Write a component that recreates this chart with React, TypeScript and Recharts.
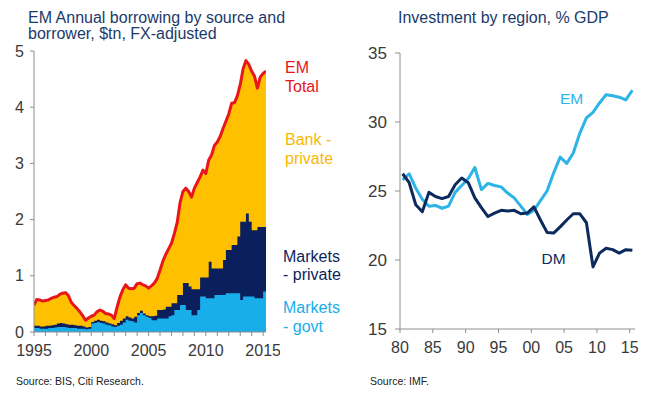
import React from 'react';
import { ComposedChart, LineChart, Area, Line, XAxis, YAxis } from 'recharts';

const FONT = '"Liberation Sans", Arial, Helvetica, sans-serif';

// ---------- Left chart: EM annual borrowing ($tn), quarterly ----------
const quarters: number[] = Array.from({ length: 82 }, (_, i) => 1995 + i / 4);

const emTotal = [
  0.48, 0.58, 0.57, 0.55, 0.56, 0.57, 0.60, 0.62, 0.63, 0.67, 0.69, 0.70,
  0.65, 0.53, 0.47, 0.42, 0.36, 0.29, 0.21, 0.25, 0.28, 0.30, 0.36, 0.39,
  0.37, 0.33, 0.32, 0.30, 0.24, 0.44, 0.62, 0.75, 0.84, 0.78, 0.77, 0.78,
  0.86, 0.87, 0.84, 0.82, 0.78, 0.82, 0.87, 0.95, 1.10, 1.26, 1.38, 1.48,
  1.58, 1.75, 1.95, 2.30, 2.50, 2.56, 2.50, 2.40, 2.56, 2.66, 2.76, 2.88,
  2.82, 3.06, 3.15, 3.32, 3.38, 3.48, 3.62, 3.75, 3.88, 4.07, 4.08, 4.20,
  4.40, 4.68, 4.83, 4.76, 4.64, 4.55, 4.34, 4.54, 4.60, 4.64,
];

const marketsGovt = [
  0.07, 0.07, 0.06, 0.06, 0.06, 0.07, 0.07, 0.08, 0.09, 0.09, 0.09, 0.08,
  0.07, 0.07, 0.07, 0.06, 0.06, 0.06, 0.05, 0.06, 0.15, 0.16, 0.18, 0.16,
  0.15, 0.13, 0.12, 0.10, 0.09, 0.11, 0.13, 0.17, 0.22, 0.20, 0.19, 0.17,
  0.30, 0.34, 0.30, 0.27, 0.25, 0.21, 0.21, 0.24, 0.24, 0.24, 0.24, 0.28,
  0.30, 0.39, 0.39, 0.48, 0.48, 0.39, 0.39, 0.30, 0.30, 0.39, 0.63, 0.63,
  0.60, 0.60, 0.60, 0.66, 0.66, 0.66, 0.66, 0.69, 0.69, 0.69, 0.69, 0.69,
  0.57, 0.63, 0.63, 0.63, 0.63, 0.60, 0.60, 0.60, 0.72, 0.72,
];

const marketsPrivate = [
  0.04, 0.04, 0.04, 0.04, 0.05, 0.04, 0.05, 0.05, 0.06, 0.07, 0.06, 0.06,
  0.06, 0.06, 0.05, 0.05, 0.05, 0.04, 0.03, 0.03, 0.03, 0.04, 0.04, 0.04,
  0.04, 0.04, 0.03, 0.04, 0.03, 0.05, 0.07, 0.07, 0.06, 0.06, 0.05, 0.10,
  0.04, 0.04, 0.03, 0.03, 0.03, 0.07, 0.08, 0.15, 0.15, 0.16, 0.21, 0.17,
  0.21, 0.12, 0.27, 0.18, 0.39, 0.48, 0.42, 0.46, 0.46, 0.37, 0.34, 0.34,
  0.37, 0.65, 0.53, 0.47, 0.47, 0.47, 0.62, 0.77, 0.77, 0.86, 0.86, 1.01,
  1.39, 1.33, 1.48, 1.33, 1.18, 1.21, 1.27, 1.27, 1.15, 1.15,
];

const leftYearTicks = [
  1995, 1996, 1997, 1998, 1999, 2000, 2001, 2002, 2003, 2004, 2005,
  2006, 2007, 2008, 2009, 2010, 2011, 2012, 2013, 2014, 2015,
];
const leftValueTicks = [0, 1, 2, 3, 4, 5];

// ---------- Right chart: Investment by region, % GDP ----------
const investYears = [
  1980, 1981, 1982, 1983, 1984, 1985, 1986, 1987, 1988, 1989,
  1990, 1991, 1992, 1993, 1994, 1995, 1996, 1997, 1998, 1999,
  2000, 2001, 2002, 2003, 2004, 2005, 2006, 2007, 2008, 2009,
  2010, 2011, 2012, 2013, 2014, 2015,
];
const emInvest = [
  25.8, 26.25, 25.2, 24.4, 23.9, 23.95, 23.75, 23.9, 24.9, 25.4,
  25.9, 26.7, 25.1, 25.55, 25.4, 25.3, 24.85, 24.5, 23.9, 23.3,
  23.6, 24.3, 25.0, 26.3, 27.46, 27.0, 27.75, 29.2, 30.3, 30.7,
  31.38, 31.98, 31.9, 31.8, 31.6, 32.3,
];
const dmInvest = [
  26.25, 25.6, 24.0, 23.5, 24.9, 24.6, 24.45, 24.6, 25.45, 25.94,
  25.6, 24.5, 23.8, 23.15, 23.4, 23.6, 23.55, 23.6, 23.35, 23.4,
  23.85, 22.9, 22.0, 21.95, 22.4, 22.9, 23.35, 23.35, 22.7, 19.5,
  20.5, 20.85, 20.75, 20.5, 20.75, 20.7,
];
const rightYearTicks = [1980, 1985, 1990, 1995, 2000, 2005, 2010, 2015];
const rightValueTicks = [15, 20, 25, 30, 35];

// tables built from the arrays
const leftData = quarters.map((t, i) => ({
  t,
  total: emTotal[i],
  marketsTop: +(marketsGovt[i] + marketsPrivate[i]).toFixed(3),
  govt: marketsGovt[i],
}));
const rightData = investYears.map((y, i) => ({
  t: y + 0.4, // annual value plotted mid-year
  em: emInvest[i],
  dm: dmInvest[i],
}));

const C = {
  title: '#1B3A6B',
  red: '#E8151B',
  gold: '#FFC000',
  goldText: '#F7B900',
  navy: '#0B1F5C',
  govt: '#17AEEA',
  emLine: '#2BB4E5',
  dmLine: '#0D2A5E',
  axis: '#8E8E8E',
  tick: '#3A3A3A',
};

export default function App() {
  return (
    <div style={{ position: 'absolute', left: 0, top: 0, width: 655, height: 395, background: '#fff', fontFamily: FONT }}>
      <div style={{ position: 'absolute', left: 0, top: 0 }}>
        <ComposedChart width={280} height={370} data={leftData} margin={{ top: 51, right: 14, bottom: 8, left: 0 }}>
          <XAxis
            type="number"
            dataKey="t"
            domain={[1995, 2015.25]}
            ticks={leftYearTicks}
            interval={0}
            allowDataOverflow
            tickFormatter={(v: number) => (v % 5 === 0 ? String(v) : '')}
            tickSize={4}
            tickMargin={9}
            height={30}
            stroke={C.axis}
            tick={{ fill: C.tick, fontSize: 16, fontFamily: FONT }}
          />
          <YAxis
            type="number"
            domain={[0, 5]}
            ticks={leftValueTicks}
            interval={0}
            width={34}
            tickSize={4}
            tickMargin={6}
            stroke={C.axis}
            tick={{ fill: C.tick, fontSize: 16, fontFamily: FONT }}
          />
          <Area type="linear" dataKey="total" fill={C.gold} fillOpacity={1} stroke="none" isAnimationActive={false} />
          <Area type="stepAfter" dataKey="marketsTop" fill={C.navy} fillOpacity={1} stroke="none" isAnimationActive={false} />
          <Area type="stepAfter" dataKey="govt" fill={C.govt} fillOpacity={1} stroke="none" isAnimationActive={false} />
          <Line type="linear" dataKey="total" stroke={C.red} strokeWidth={3} dot={false} strokeLinejoin="round" isAnimationActive={false} />
        </ComposedChart>
      </div>

      <div style={{ position: 'absolute', left: 300, top: 0 }}>
        <LineChart width={355} height={370} data={rightData} margin={{ top: 53, right: 20, bottom: 11, left: 60 }}>
          <XAxis
            type="number"
            dataKey="t"
            domain={[1980, 2015.8]}
            ticks={rightYearTicks}
            interval={0}
            allowDataOverflow
            tickFormatter={(v: number) => String(v % 100).padStart(2, '0')}
            tickSize={4}
            tickMargin={9}
            height={30}
            stroke={C.axis}
            tick={{ fill: C.tick, fontSize: 16, fontFamily: FONT }}
          />
          <YAxis
            type="number"
            domain={[15, 35]}
            ticks={rightValueTicks}
            interval={0}
            width={40}
            tickSize={5}
            tickMargin={8}
            stroke={C.axis}
            tick={{ fill: C.tick, fontSize: 17, fontFamily: FONT }}
          />
          <Line type="linear" dataKey="em" stroke={C.emLine} strokeWidth={3} dot={false} strokeLinejoin="round" isAnimationActive={false} />
          <Line type="linear" dataKey="dm" stroke={C.dmLine} strokeWidth={3} dot={false} strokeLinejoin="round" isAnimationActive={false} />
        </LineChart>
      </div>

      <svg width={655} height={395} style={{ position: 'absolute', left: 0, top: 0, pointerEvents: 'none' }}>
        <g fontFamily={FONT}>
          <text x={28} y={22.5} fontSize={16} fill={C.title}>EM Annual borrowing by source and</text>
          <text x={28} y={38.5} fontSize={16} fill={C.title}>borrower, $tn, FX-adjusted</text>
          <text x={398} y={22.5} fontSize={16} fill={C.title}>Investment by region, % GDP</text>

          <text x={285} y={73} fontSize={16} fill={C.red}>EM</text>
          <text x={285} y={91.5} fontSize={16} fill={C.red}>Total</text>
          <text x={285} y={145} fontSize={16} fill={C.goldText}>Bank -</text>
          <text x={285} y={163.5} fontSize={16} fill={C.goldText}>private</text>
          <text x={283} y={261.5} fontSize={16} fill={C.navy}>Markets</text>
          <text x={283} y={280} fontSize={16} fill={C.navy}>- private</text>
          <text x={283} y={313} fontSize={16} fill={C.govt}>Markets</text>
          <text x={283} y={331.5} fontSize={16} fill={C.govt}>- govt</text>

          <text x={560} y={103.5} fontSize={15.5} fill={C.emLine}>EM</text>
          <text x={541.5} y={264} fontSize={15.5} fill={C.dmLine}>DM</text>

          <text x={16} y={385} fontSize={10.5} fill="#222">Source: BIS, Citi Research.</text>
          <text x={370} y={385} fontSize={10.5} fill="#222">Source: IMF.</text>
        </g>
      </svg>
    </div>
  );
}
